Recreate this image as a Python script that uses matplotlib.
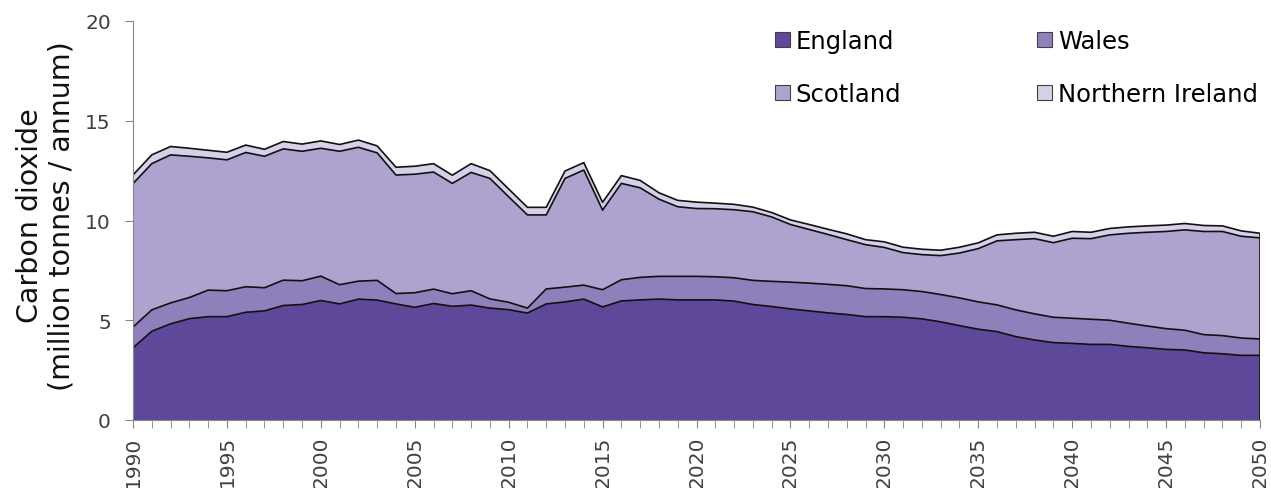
import numpy as np
import matplotlib
matplotlib.use("Agg")
import matplotlib.pyplot as plt
from matplotlib.patches import Patch

#-------------------#
# Data
#-------------------#
years = np.arange(1990, 2051)

england = [3.62, 4.45, 4.82, 5.08, 5.18, 5.18, 5.40, 5.47, 5.74, 5.79,
           5.99, 5.82, 6.06, 6.01, 5.82, 5.65, 5.84, 5.70, 5.76, 5.61,
           5.53, 5.36, 5.82, 5.92, 6.06, 5.67, 5.97, 6.02, 6.06, 6.02,
           6.02, 6.02, 5.96, 5.79, 5.69, 5.57, 5.47, 5.37, 5.29, 5.18,
           5.18, 5.15, 5.07, 4.92, 4.73, 4.55, 4.43, 4.18, 4.01, 3.88,
           3.84, 3.79, 3.79, 3.69, 3.62, 3.54, 3.51, 3.37, 3.32, 3.24,
           3.24]
wales = [1.04, 1.07, 1.05, 1.06, 1.33, 1.30, 1.28, 1.16, 1.27, 1.19,
         1.22, 0.96, 0.90, 0.99, 0.52, 0.73, 0.72, 0.63, 0.72, 0.46,
         0.37, 0.25, 0.75, 0.74, 0.70, 0.86, 1.06, 1.13, 1.14, 1.18,
         1.18, 1.16, 1.17, 1.21, 1.26, 1.34, 1.39, 1.43, 1.44, 1.41,
         1.39, 1.38, 1.37, 1.37, 1.39, 1.37, 1.34, 1.34, 1.31, 1.27,
         1.26, 1.26, 1.21, 1.16, 1.09, 1.04, 0.99, 0.91, 0.91, 0.87,
         0.82]
scotland = [7.19, 7.33, 7.42, 7.08, 6.63, 6.56, 6.73, 6.59, 6.58, 6.49,
            6.41, 6.69, 6.71, 6.39, 5.94, 5.94, 5.87, 5.53, 5.93, 6.04,
            5.29, 4.67, 3.71, 5.45, 5.77, 3.99, 4.83, 4.49, 3.87, 3.49,
            3.40, 3.41, 3.41, 3.44, 3.23, 2.89, 2.69, 2.50, 2.31, 2.20,
            2.08, 1.86, 1.85, 1.95, 2.25, 2.67, 3.21, 3.52, 3.77, 3.74,
            4.01, 4.04, 4.28, 4.51, 4.70, 4.87, 5.03, 5.17, 5.22, 5.10,
            5.07]
n_ireland = [0.43, 0.44, 0.42, 0.40, 0.38, 0.38, 0.37, 0.35, 0.37, 0.36,
             0.37, 0.34, 0.36, 0.35, 0.39, 0.40, 0.42, 0.41, 0.44, 0.39,
             0.39, 0.38, 0.38, 0.37, 0.37, 0.39, 0.39, 0.37, 0.32, 0.32,
             0.32, 0.28, 0.27, 0.23, 0.22, 0.23, 0.25, 0.26, 0.29, 0.25,
             0.28, 0.27, 0.27, 0.27, 0.29, 0.29, 0.30, 0.32, 0.32, 0.32,
             0.34, 0.32, 0.32, 0.32, 0.32, 0.32, 0.32, 0.30, 0.28, 0.27,
             0.23]

names = ["England", "Wales", "Scotland", "Northern Ireland"]
colours = ["#5e4899", "#8f80bb", "#aea3ce", "#d6d0e8"]

#-------------------#
# Plot
#-------------------#
plt.rcParams['font.family'] = ['DejaVu Sans']

fig = plt.figure(figsize=(12.71, 4.89), dpi=100)
ax = fig.add_axes([133 / 1271, 1 - 421 / 489, (1260 - 133) / 1271, (421 - 22) / 489])

series = [england, wales, scotland, n_ireland]
ax.stackplot(years, *series, colors=colours, linewidth=0)
tops = np.cumsum(np.array(series), axis=0)
for t in tops:
    ax.plot(years, t, color="#111111", lw=1.2)
ax.vlines(years[-1], 0, tops[-1][-1], color="#111111", lw=1.2)

ax.set_xlim(1990, 2050)
ax.set_ylim(0, 20)
ax.set_yticks([0, 5, 10, 15, 20])
ax.set_xticks(years, minor=True)
ax.set_xticks(np.arange(1990, 2051, 5))
ax.tick_params(axis='x', which='both', length=6, color="#888888", labelrotation=90,
               labelsize=14.5, labelcolor="#404040", pad=5)
ax.tick_params(axis='y', length=6, color="#888888", labelsize=14.5, labelcolor="#404040", pad=10)

for s in ["top", "right"]:
    ax.spines[s].set_visible(False)
for s in ["left", "bottom"]:
    ax.spines[s].set_color("#888888")

ax.set_ylabel("Carbon dioxide\n(million tonnes / annum)", fontsize=20.5, color="#111111",
              linespacing=1.2)
ax.yaxis.set_label_coords(-0.0506, 0.514)

handles = [Patch(facecolor=c, edgecolor="#404040", lw=0.8) for c in colours]
order = [0, 2, 1, 3]
fig.legend([handles[i] for i in order], [names[i] for i in order],
           ncol=2, loc='upper left', bbox_to_anchor=(775 / 1271, 1 - 30 / 489),
           frameon=False, fontsize=17.5, handlelength=0.6, handleheight=0.6,
           handletextpad=0.25, labelspacing=1.2, columnspacing=5.6, borderpad=0,
           borderaxespad=0)

fig.savefig("out.png", dpi=100)
